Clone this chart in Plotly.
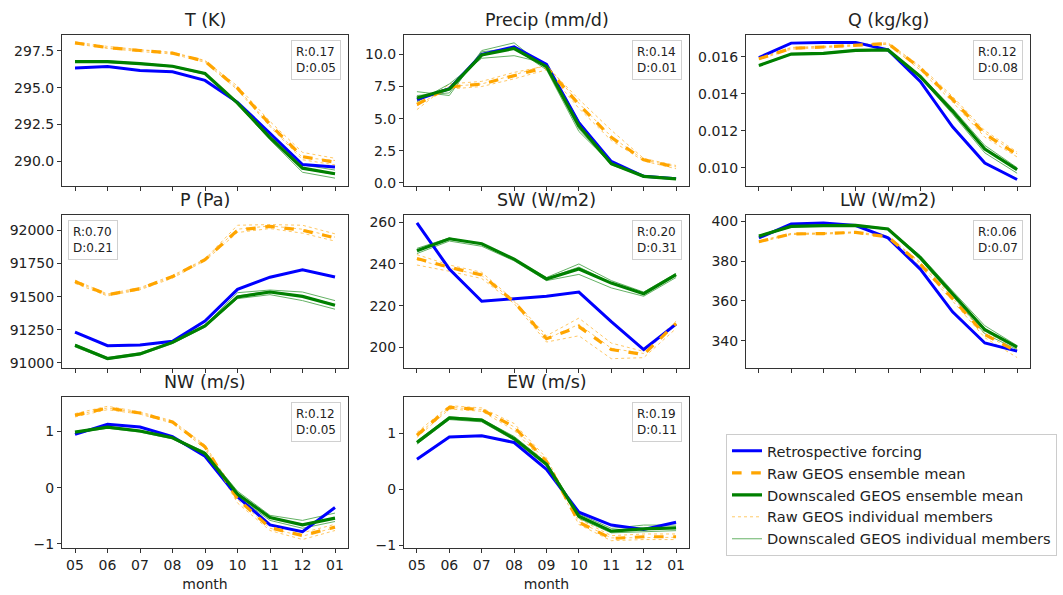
import plotly.graph_objects as go

months = ["05", "06", "07", "08", "09", "10", "11", "12", "01"]

panel_titles = ["T (K)", "Precip (mm/d)", "Q (kg/kg)", "P (Pa)", "SW (W/m2)", "LW (W/m2)", "NW (m/s)", "EW (m/s)"]
stats_text = ["R:0.17<br>D:0.05", "R:0.14<br>D:0.01", "R:0.12<br>D:0.08", "R:0.70<br>D:0.21",
              "R:0.20<br>D:0.31", "R:0.06<br>D:0.07", "R:0.12<br>D:0.05", "R:0.19<br>D:0.11"]

# Retrospective forcing
T_retro = [296.34, 296.43, 296.16, 296.07, 295.49, 294.0, 291.9, 289.78, 289.6]
Precip_retro = [6.49, 7.33, 10.0, 10.59, 9.23, 4.69, 1.67, 0.51, 0.33]
Q_retro = [0.01595, 0.01673, 0.01677, 0.01677, 0.01636, 0.01466, 0.01221, 0.01025, 0.00936]
P_retro = [91231, 91129, 91134, 91162, 91316, 91555, 91647, 91704, 91649]
SW_retro = [259.7, 237.6, 222.1, 223.4, 224.5, 226.5, 212.3, 198.9, 211.1]
LW_retro = [391.7, 398.7, 399.2, 397.9, 391.7, 376.0, 354.5, 338.8, 334.7]
NW_retro = [0.95, 1.13, 1.08, 0.91, 0.56, -0.16, -0.66, -0.78, -0.35]
EW_retro = [0.54, 0.94, 0.96, 0.84, 0.36, -0.41, -0.64, -0.72, -0.59]

# Raw GEOS ensemble mean
T_raw = [298.04, 297.72, 297.52, 297.34, 296.79, 294.96, 292.5, 290.31, 289.93]
Precip_raw = [6.1, 7.46, 7.69, 8.36, 9.0, 6.1, 3.54, 1.79, 1.23]
Q_raw = [0.01588, 0.01645, 0.01652, 0.01662, 0.01671, 0.01538, 0.01369, 0.01182, 0.01071]
P_raw = [91614, 91515, 91560, 91652, 91779, 92002, 92032, 92002, 91945]
SW_raw = [242.6, 238.4, 234.7, 221.8, 204.1, 209.9, 198.9, 196.5, 211.5]
LW_raw = [389.8, 393.7, 393.9, 394.5, 392.2, 378.5, 361.2, 343.0, 334.4]
NW_raw = [1.29, 1.42, 1.33, 1.17, 0.73, -0.2, -0.71, -0.85, -0.7]
EW_raw = [0.97, 1.47, 1.43, 1.12, 0.5, -0.59, -0.88, -0.85, -0.85]

# Downscaled GEOS ensemble mean
T_ds = [296.76, 296.76, 296.63, 296.45, 295.96, 293.95, 291.6, 289.53, 289.15]
Precip_ds = [6.6, 7.3, 9.95, 10.46, 9.05, 4.44, 1.49, 0.51, 0.31]
Q_ds = [0.01552, 0.01614, 0.01618, 0.01634, 0.01636, 0.01493, 0.01306, 0.01101, 0.00989]
P_ds = [91132, 91032, 91067, 91154, 91279, 91498, 91535, 91502, 91435]
SW_ds = [246.3, 252.1, 249.7, 242.3, 232.8, 237.6, 230.8, 225.7, 234.9]
LW_ds = [392.6, 397.5, 397.9, 398.0, 396.2, 381.8, 363.6, 345.5, 336.7]
NW_ds = [0.99, 1.08, 1.01, 0.89, 0.61, -0.11, -0.53, -0.66, -0.54]
EW_ds = [0.84, 1.28, 1.24, 0.91, 0.45, -0.48, -0.75, -0.71, -0.69]

# Raw GEOS individual members
T_raw_members = [
    [298.10, 297.80, 297.58, 297.40, 296.85, 295.10, 292.70, 290.60, 290.20],
    [297.98, 297.66, 297.45, 297.28, 296.72, 294.85, 292.35, 290.10, 289.75],
    [298.05, 297.70, 297.55, 297.36, 296.80, 294.95, 292.45, 290.25, 290.05],
]
Precip_raw_members = [
    [5.7, 7.7, 7.9, 8.6, 9.1, 6.5, 4.1, 1.9, 1.35],
    [6.4, 7.3, 7.5, 8.1, 8.8, 5.8, 3.3, 1.7, 1.1],
    [6.0, 7.5, 7.7, 8.4, 9.2, 6.2, 3.6, 1.8, 1.25],
]
Q_raw_members = [
    [0.01592, 0.01650, 0.01656, 0.01666, 0.01675, 0.01548, 0.01385, 0.01200, 0.01085],
    [0.01584, 0.01640, 0.01648, 0.01658, 0.01667, 0.01528, 0.01355, 0.01165, 0.01058],
    [0.01589, 0.01646, 0.01653, 0.01663, 0.01670, 0.01540, 0.01372, 0.01188, 0.01075],
]
P_raw_members = [
    [91625, 91520, 91568, 91660, 91785, 92040, 92045, 92040, 91975],
    [91600, 91505, 91552, 91640, 91772, 91985, 92015, 91980, 91920],
    [91615, 91512, 91560, 91650, 91780, 92010, 92035, 92010, 91950],
]
SW_raw_members = [
    [244.5, 239.5, 236.0, 222.5, 205.5, 214.0, 202.0, 198.0, 212.5],
    [239.5, 236.5, 233.0, 221.0, 202.5, 205.5, 194.5, 195.0, 209.0],
    [242.0, 238.0, 234.5, 222.0, 204.0, 211.0, 199.5, 197.0, 212.0],
]
LW_raw_members = [
    [390.2, 394.0, 394.2, 394.8, 392.6, 379.5, 362.5, 344.5, 336.0],
    [389.4, 393.4, 393.6, 394.2, 391.8, 377.5, 360.0, 341.5, 331.5],
    [389.8, 393.7, 393.9, 394.5, 392.2, 378.8, 361.5, 343.2, 334.0],
]
NW_raw_members = [
    [1.32, 1.45, 1.35, 1.19, 0.76, -0.15, -0.66, -0.80, -0.65],
    [1.26, 1.39, 1.31, 1.15, 0.70, -0.27, -0.76, -0.92, -0.76],
    [1.29, 1.42, 1.33, 1.17, 0.73, -0.21, -0.72, -0.86, -0.71],
]
EW_raw_members = [
    [1.02, 1.50, 1.46, 1.18, 0.56, -0.53, -0.83, -0.80, -0.80],
    [0.93, 1.44, 1.40, 1.06, 0.45, -0.63, -0.92, -0.90, -0.90],
    [0.97, 1.47, 1.43, 1.12, 0.50, -0.58, -0.87, -0.86, -0.86],
]

# Downscaled GEOS individual members
T_ds_members = [
    [296.80, 296.82, 296.66, 296.48, 296.00, 294.02, 291.75, 289.75, 289.40],
    [296.72, 296.70, 296.58, 296.40, 295.90, 293.88, 291.45, 289.25, 288.85],
    [296.77, 296.75, 296.64, 296.46, 295.97, 293.96, 291.62, 289.50, 289.10],
]
Precip_ds_members = [
    [7.1, 6.8, 10.3, 10.9, 8.9, 4.2, 1.4, 0.5, 0.3],
    [6.3, 7.7, 9.7, 9.9, 9.3, 4.8, 1.6, 0.52, 0.33],
    [6.8, 7.0, 10.2, 10.5, 8.8, 4.0, 1.5, 0.5, 0.3],
]
Q_ds_members = [
    [0.01555, 0.01617, 0.01621, 0.01636, 0.01638, 0.01500, 0.01320, 0.01120, 0.01000],
    [0.01549, 0.01611, 0.01615, 0.01631, 0.01633, 0.01485, 0.01290, 0.01080, 0.00970],
    [0.01553, 0.01614, 0.01619, 0.01634, 0.01637, 0.01495, 0.01310, 0.01105, 0.00992],
]
P_ds_members = [
    [91140, 91040, 91075, 91160, 91285, 91530, 91550, 91535, 91470],
    [91120, 91025, 91060, 91145, 91270, 91485, 91515, 91470, 91405],
    [91135, 91035, 91068, 91155, 91280, 91505, 91540, 91505, 91440],
]
SW_ds_members = [
    [247.5, 252.5, 249.5, 242.5, 233.5, 240.0, 232.0, 226.5, 235.5],
    [245.0, 251.0, 248.5, 241.5, 232.0, 235.0, 228.5, 224.5, 233.5],
    [246.5, 252.0, 249.8, 242.0, 233.0, 238.5, 231.0, 225.5, 234.5],
]
LW_ds_members = [
    [393.0, 397.8, 398.2, 398.3, 396.5, 382.8, 365.0, 347.5, 337.5],
    [392.2, 397.2, 397.6, 397.7, 395.9, 380.8, 362.5, 343.5, 335.5],
    [392.6, 397.5, 397.9, 398.0, 396.2, 382.0, 364.0, 346.0, 336.8],
]
NW_ds_members = [
    [1.00, 1.09, 1.02, 0.90, 0.64, -0.06, -0.49, -0.58, -0.45],
    [0.97, 1.06, 0.99, 0.87, 0.58, -0.16, -0.58, -0.72, -0.60],
    [0.99, 1.08, 1.01, 0.89, 0.62, -0.10, -0.52, -0.65, -0.53],
]
EW_ds_members = [
    [0.87, 1.30, 1.26, 0.95, 0.48, -0.44, -0.70, -0.64, -0.64],
    [0.81, 1.25, 1.21, 0.88, 0.42, -0.52, -0.78, -0.76, -0.74],
    [0.84, 1.28, 1.24, 0.91, 0.45, -0.48, -0.75, -0.71, -0.69],
]

# y tick values / labels
T_ticks = [290.0, 292.5, 295.0, 297.5]
T_ticklabels = ["290.0", "292.5", "295.0", "297.5"]
Precip_ticks = [0, 2.5, 5, 7.5, 10]
Precip_ticklabels = ["0.0", "2.5", "5.0", "7.5", "10.0"]
Q_ticks = [0.010, 0.012, 0.014, 0.016]
Q_ticklabels = ["0.010", "0.012", "0.014", "0.016"]
P_ticks = [91000, 91250, 91500, 91750, 92000]
P_ticklabels = ["91000", "91250", "91500", "91750", "92000"]
SW_ticks = [200, 220, 240, 260]
SW_ticklabels = ["200", "220", "240", "260"]
LW_ticks = [340, 360, 380, 400]
LW_ticklabels = ["340", "360", "380", "400"]
Wind_ticks = [-1, 0, 1]
Wind_ticklabels = ["\u22121", "0", "1"]

panels = [
    (T_retro, T_raw, T_ds, T_raw_members, T_ds_members, T_ticks, T_ticklabels, [288.33, 298.6]),
    (Precip_retro, Precip_raw, Precip_ds, Precip_raw_members, Precip_ds_members, Precip_ticks, Precip_ticklabels, [-0.23, 11.54]),
    (Q_retro, Q_raw, Q_ds, Q_raw_members, Q_ds_members, Q_ticks, Q_ticklabels, [0.00902, 0.01719]),
    (P_retro, P_raw, P_ds, P_raw_members, P_ds_members, P_ticks, P_ticklabels, [90963, 92114]),
    (SW_retro, SW_raw, SW_ds, SW_raw_members, SW_ds_members, SW_ticks, SW_ticklabels, [190.2, 263.3]),
    (LW_retro, LW_raw, LW_ds, LW_raw_members, LW_ds_members, LW_ticks, LW_ticklabels, [326.4, 403.0]),
    (NW_retro, NW_raw, NW_ds, NW_raw_members, NW_ds_members, Wind_ticks, Wind_ticklabels, [-1.08, 1.61]),
    (EW_retro, EW_raw, EW_ds, EW_raw_members, EW_ds_members, Wind_ticks, Wind_ticklabels, [-1.06, 1.65]),
]

W, H = 1063, 595
col_px = [(62, 348), (404, 689), (746, 1030)]
row_px = [(33, 186), (216, 370), (400, 553)]

FONT = "DejaVu Sans"
BLUE, ORANGE, GREEN = "#0000ff", "#ffa500", "#008000"
AX = "#333333"

fig = go.Figure()
annotations = []
first_legend = True
for i, (retro, raw, ds, raw_m, ds_m, yt, ytl, yr) in enumerate(panels):
    r, c = divmod(i, 3)
    n = i + 1
    xa = "x" if n == 1 else f"x{n}"
    ya = "y" if n == 1 else f"y{n}"
    xkey = "xaxis" if n == 1 else f"xaxis{n}"
    ykey = "yaxis" if n == 1 else f"yaxis{n}"
    x0, x1 = col_px[c]
    t0, t1 = row_px[r]
    fig.update_layout({
        xkey: dict(domain=[x0 / W, x1 / W], anchor=ya, type="category", range=[-0.4, 8.4],
                   showline=True, mirror=True, linecolor=AX, linewidth=1, ticks="outside",
                   ticklen=4, tickcolor=AX, showgrid=False, zeroline=False,
                   showticklabels=(r == 2),
                   tickfont=dict(family=FONT, size=14, color="#222"),
                   title=dict(text="month", font=dict(family=FONT, size=14, color="#222"), standoff=6) if r == 2 else None),
        ykey: dict(domain=[1 - t1 / H, 1 - t0 / H], anchor=xa, range=yr,
                   showline=True, mirror=True, linecolor=AX, linewidth=1, ticks="outside",
                   ticklen=4, tickcolor=AX, showgrid=False, zeroline=False,
                   tickvals=yt, ticktext=ytl,
                   tickfont=dict(family=FONT, size=14, color="#222")),
    })
    for k, m in enumerate(raw_m):
        fig.add_trace(go.Scatter(x=months, y=m, xaxis=xa, yaxis=ya, mode="lines",
                                 line=dict(color=ORANGE, width=1, dash="dot"), opacity=0.6,
                                 name="Raw GEOS individual members", legendrank=4,
                                 showlegend=(first_legend and k == 0), hoverinfo="skip"))
    for k, m in enumerate(ds_m):
        fig.add_trace(go.Scatter(x=months, y=m, xaxis=xa, yaxis=ya, mode="lines",
                                 line=dict(color=GREEN, width=1), opacity=0.6,
                                 name="Downscaled GEOS individual members", legendrank=5,
                                 showlegend=(first_legend and k == 0), hoverinfo="skip"))
    fig.add_trace(go.Scatter(x=months, y=retro, xaxis=xa, yaxis=ya, mode="lines",
                             line=dict(color=BLUE, width=3), name="Retrospective forcing",
                             legendrank=1, showlegend=first_legend))
    fig.add_trace(go.Scatter(x=months, y=raw, xaxis=xa, yaxis=ya, mode="lines",
                             line=dict(color=ORANGE, width=3.2, dash="dash"), name="Raw GEOS ensemble mean",
                             legendrank=2, showlegend=first_legend))
    fig.add_trace(go.Scatter(x=months, y=ds, xaxis=xa, yaxis=ya, mode="lines",
                             line=dict(color=GREEN, width=3.2), name="Downscaled GEOS ensemble mean",
                             legendrank=3, showlegend=first_legend))
    first_legend = False

    # subplot title
    annotations.append(dict(text=panel_titles[i], xref=f"{xa} domain", yref=f"{ya} domain",
                            x=0.5, y=1, yshift=3, xanchor="center", yanchor="bottom", showarrow=False,
                            font=dict(family=FONT, size=17.5, color="#222")))
    # stats box
    left = (i == 3)
    annotations.append(dict(text=stats_text[i], xref=f"{xa} domain", yref=f"{ya} domain",
                            x=0 if left else 1, xanchor="left" if left else "right",
                            xshift=6 if left else -7, y=1, yanchor="top", yshift=-5,
                            showarrow=False, align="left", bgcolor="rgba(255,255,255,0.8)",
                            bordercolor="#d0d0d0", borderwidth=1, borderpad=4,
                            font=dict(family=FONT, size=12, color="#222")))

fig.update_layout(
    width=W, height=H, margin=dict(l=0, r=0, t=0, b=0),
    paper_bgcolor="white", plot_bgcolor="white",
    annotations=annotations,
    showlegend=True,
    legend=dict(x=726 / W, y=1 - 437 / H, xanchor="left", yanchor="top",
                bordercolor="#cccccc", borderwidth=1, bgcolor="white",
                font=dict(family=FONT, size=14.6, color="#222"), traceorder="normal",
                tracegroupgap=0),
)

fig.write_html("out.html")
